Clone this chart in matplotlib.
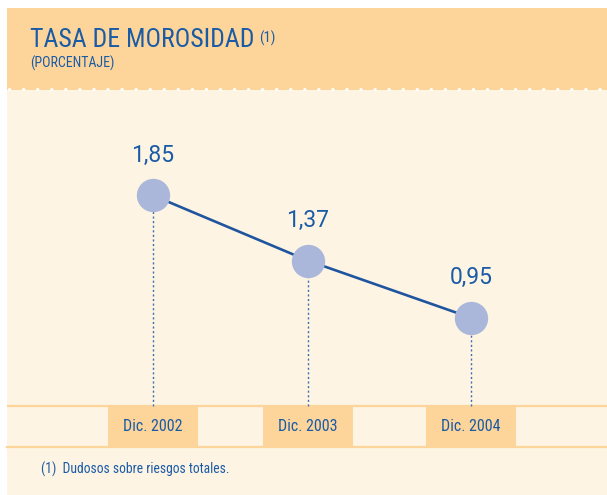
import matplotlib
matplotlib.use('Agg')
from matplotlib import pyplot as plt
from matplotlib.patches import Rectangle
from matplotlib.lines import Line2D
from matplotlib import font_manager

# data
years = ['Dic. 2002', 'Dic. 2003', 'Dic. 2004']
tasa = [1.85, 1.37, 0.95]
xpos = [0, 0.975, 2]

blue = '#1a5ba6'
orange = '#fdd59a'
cream = '#fef4e4'
W, H = 607, 495

# pick a narrow face if one is around
names = {f.name for f in font_manager.fontManager.ttflist}
narrow = 'DejaVu Sans'
for cand in ['Liberation Sans Narrow', 'Roboto Condensed', 'Open Sans Condensed',
             'Noto Sans Condensed', 'DejaVu Sans Condensed']:
    if cand in names:
        narrow = cand
        break
nk = dict(family=narrow, stretch='condensed')

fig = plt.figure(figsize=(W / 100, H / 100), dpi=100)
fig.patch.set_facecolor('white')

# header + body backgrounds
fig.add_artist(Rectangle((7 / W, (H - 90) / H), 600 / W, 82 / H,
                         transform=fig.transFigure, color=orange, lw=0, zorder=0))
fig.add_artist(Rectangle((7 / W, 0), 600 / W, (H - 90) / H,
                         transform=fig.transFigure, color=cream, lw=0, zorder=0))
fig.add_artist(Line2D([9 / W, 607 / W], [(H - 88.5) / H] * 2, transform=fig.transFigure,
                      color='white', lw=2.2, linestyle=(0, (0.1, 4.5)),
                      dash_capstyle='round', zorder=1))

t = fig.text(30 / W, (H - 47) / H, 'TASA DE MOROSIDAD', color=blue, fontsize=18.5,
             va='baseline', **nk)
fig.canvas.draw()
bb = t.get_window_extent()
fig.text(bb.x1 / W + 5 / W, (H - 43) / H, '(1)', color=blue, fontsize=10.5,
         va='baseline', **nk)
fig.text(30 / W, (H - 68) / H, '(PORCENTAJE)', color=blue, fontsize=10,
         va='baseline', **nk)
fig.text(41 / W, (H - 474) / H, '(1)  Dudosos sobre riesgos totales.', color=blue,
         fontsize=9.8, va='baseline', **nk)

# plot area
ax = fig.add_axes([7 / W, (H - 447) / H, 600 / W, (447 - 92) / H])
ax.set_facecolor('none')
ax.set_xlim(-0.918, 2.855)
ax.set_ylim(0, 355 / 136)
ax.axis('off')

band = 41 / 136
ax.axhline(band, color=orange, lw=1.6, zorder=1)
ax.axhline(0, color=orange, lw=1.6, zorder=1, clip_on=False)
for x, lab in zip(xpos, years):
    ax.add_patch(Rectangle((x - 0.283, 0), 0.566, band, color=orange, lw=0, zorder=1))
    ax.text(x, band / 2, lab, ha='center', va='center', color=blue,
            fontsize=11.5, **nk)

for x, v in zip(xpos, tasa):
    ax.plot([x, x], [band, v], color='#3a6fb0', lw=1, linestyle=(0, (1.5, 1.8)), zorder=2)
    ax.text(x, v + 40 / 136, f'{v:.2f}'.replace('.', ','), ha='center', va='center',
            color=blue, fontsize=16.5, family=['Roboto', 'DejaVu Sans'])

ax.plot(xpos, tasa, color='#1f559e', lw=1.9, zorder=3)
ax.plot(xpos, tasa, 'o', ms=24, color='#aab6da', mec='none', zorder=4)

plt.savefig('out.png', dpi=100)
